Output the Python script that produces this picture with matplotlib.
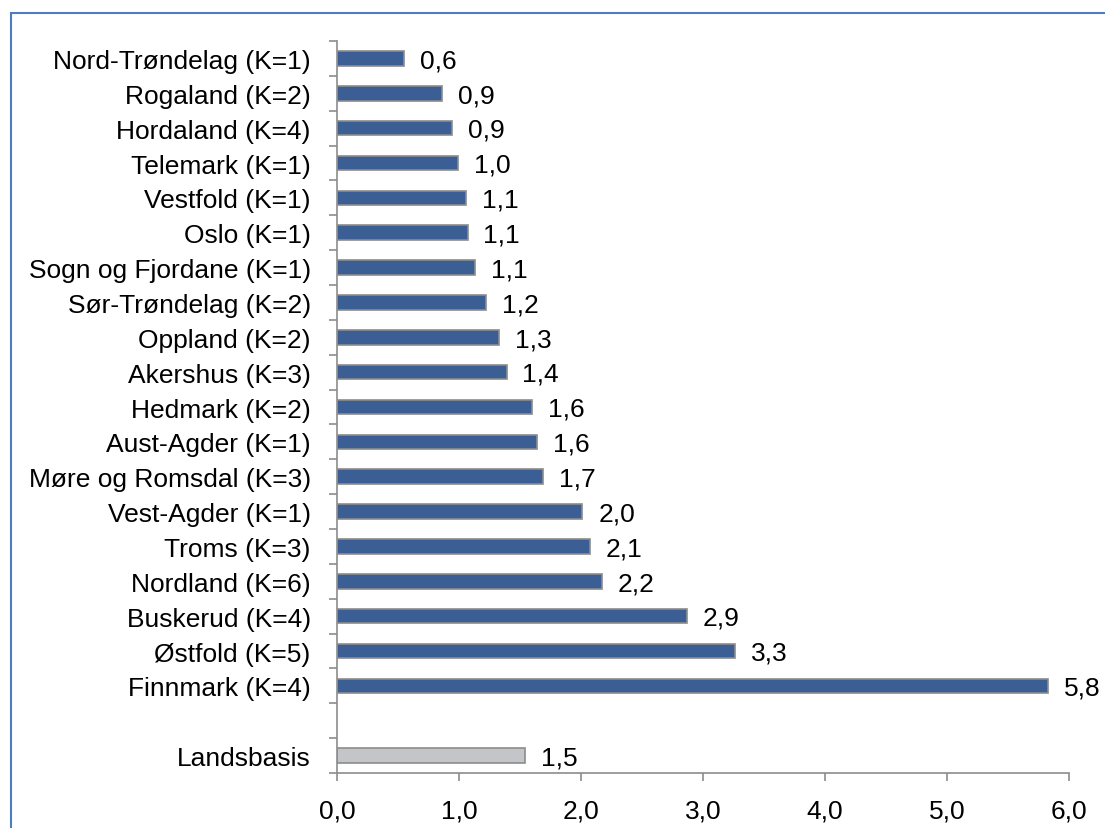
import matplotlib.pyplot as plt
import matplotlib.patches as mpatches
import matplotlib.ticker as plticker
import numpy as np

plt.rcParams['font.family'] = ['Liberation Sans', 'DejaVu Sans']

fylker = ['Nord-Trøndelag (K=1)', 'Rogaland (K=2)', 'Hordaland (K=4)', 'Telemark (K=1)',
          'Vestfold (K=1)', 'Oslo (K=1)', 'Sogn og Fjordane (K=1)', 'Sør-Trøndelag (K=2)',
          'Oppland (K=2)', 'Akershus (K=3)', 'Hedmark (K=2)', 'Aust-Agder (K=1)',
          'Møre og Romsdal (K=3)', 'Vest-Agder (K=1)', 'Troms (K=3)', 'Nordland (K=6)',
          'Buskerud (K=4)', 'Østfold (K=5)', 'Finnmark (K=4)']
verdier = [0.55, 0.86, 0.94, 0.99, 1.06, 1.07, 1.13, 1.22, 1.33, 1.39, 1.60, 1.64,
           1.69, 2.01, 2.07, 2.17, 2.87, 3.26, 5.83]
landsbasis_navn = 'Landsbasis'
landsbasis = 1.54
xticks = [0, 1, 2, 3, 4, 5, 6]

fs = 19

fig = plt.figure(figsize=(11.05, 8.29), dpi=100)
ax = fig.add_axes([0.305, 0.0663, 0.6625, 0.883])

# fylkene oppover, ett tomt felt, landsbasis nederst
pos = list(range(len(fylker)))
pos_land = len(fylker) + 1
ax.barh(pos, verdier, height=0.42, color='#3B5F95', edgecolor='#8C8C8C', linewidth=1.2)
ax.barh([pos_land], [landsbasis], height=0.42, color='#C4C5C9', edgecolor='#8C8C8C', linewidth=1.2)

for p, v in zip(pos + [pos_land], verdier + [landsbasis]):
    ax.text(v + 0.13, p + 0.05, f'{v:.1f}'.replace('.', ','), va='center', ha='left', fontsize=fs)

ax.set_ylim(pos_land + 0.5, -0.5)
ax.set_xlim(0, 6)
ax.set_yticks(pos + [pos_land])
ax.set_yticklabels(fylker + [landsbasis_navn], fontsize=fs)
ax.yaxis.set_minor_locator(plticker.FixedLocator(np.arange(-0.5, pos_land + 1, 1.0)))
ax.tick_params(axis='y', which='major', length=0, pad=19)
ax.tick_params(axis='y', which='minor', length=6, color='#8C8C8C', width=1.2)
ax.set_xticks(xticks)
ax.set_xticklabels([f'{t:.1f}'.replace('.', ',') for t in xticks], fontsize=fs)
ax.tick_params(axis='x', length=6, color='#8C8C8C', width=1.2, pad=12)

for side in ['top', 'right']:
    ax.spines[side].set_visible(False)
for side in ['left', 'bottom']:
    ax.spines[side].set_color('#8C8C8C')
    ax.spines[side].set_linewidth(1.2)

# ramme rundt diagrammet
fig.patches.append(mpatches.Rectangle((11 / 1105, -0.05), 1.1, 1 - 14 / 829 + 0.05,
                                      transform=fig.transFigure, fill=False,
                                      edgecolor='#4A7EC0', linewidth=1.5))

fig.savefig('out.png', dpi=100)
